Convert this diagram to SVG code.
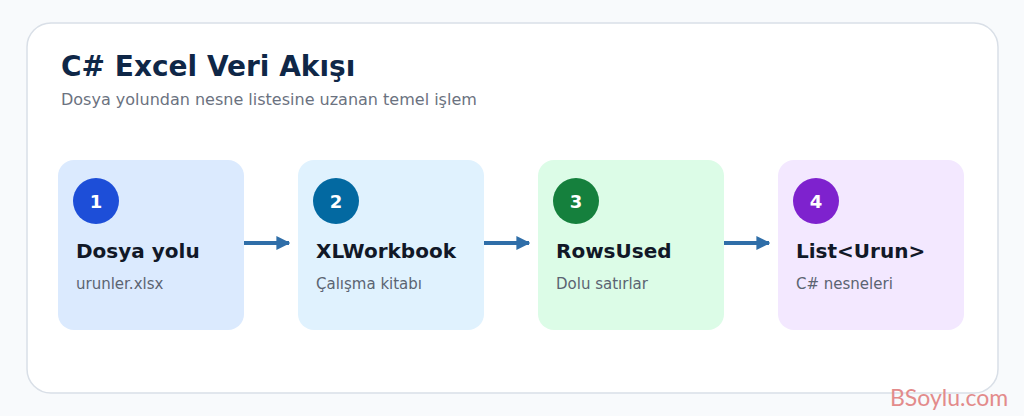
<svg xmlns="http://www.w3.org/2000/svg" width="1024" height="416" viewBox="0 0 1024 416">
<defs>
<style>
.t{font-family:"DejaVu Sans",sans-serif}
.title{font-size:28px;font-weight:bold;fill:#0f2747}
.sub{font-size:16px;fill:#6b7280}
.nt{font-size:20px;font-weight:bold;fill:#111827}
.ns{font-size:15px;fill:#5b6472}
.num{font-size:18px;font-weight:bold;fill:#ffffff;text-anchor:middle}
.conn{stroke:#2f6ea8;stroke-width:4;fill:none}
</style>
<marker id="ah" viewBox="0 0 10 10" refX="9" refY="5" markerWidth="3.5" markerHeight="4.5" orient="auto" markerUnits="strokeWidth">
<path d="M0,0 L10,5 L0,10 Z" fill="#2f6ea8"/>
</marker>
</defs>
<rect width="1024" height="416" fill="#f8fafc"/>
<rect x="27" y="23" width="971" height="370" rx="24" fill="#ffffff" stroke="#d9dfe7" stroke-width="1.5"/>
<text class="t title" x="61" y="76">C# Excel Veri Akışı</text>
<text class="t sub" x="61" y="105">Dosya yolundan nesne listesine uzanan temel işlem</text>
<g id="connectors">
<line class="conn" x1="244" y1="243" x2="289" y2="243" marker-end="url(#ah)"/>
<line class="conn" x1="484" y1="243" x2="529" y2="243" marker-end="url(#ah)"/>
<line class="conn" x1="724" y1="243" x2="769" y2="243" marker-end="url(#ah)"/>
</g>
<g id="node1">
<rect x="58" y="160" width="186" height="170" rx="16" fill="#dbeafe"/>
<circle cx="96" cy="201" r="23" fill="#1d4ed8"/>
<text class="t num" x="96" y="208">1</text>
<text class="t nt" x="76" y="258">Dosya yolu</text>
<text class="t ns" x="76" y="289">urunler.xlsx</text>
</g>
<g id="node2">
<rect x="298" y="160" width="186" height="170" rx="16" fill="#e0f2fe"/>
<circle cx="336" cy="201" r="23" fill="#0369a1"/>
<text class="t num" x="336" y="208">2</text>
<text class="t nt" x="316" y="258">XLWorkbook</text>
<text class="t ns" x="316" y="289">Çalışma kitabı</text>
</g>
<g id="node3">
<rect x="538" y="160" width="186" height="170" rx="16" fill="#dcfce7"/>
<circle cx="576" cy="201" r="23" fill="#15803d"/>
<text class="t num" x="576" y="208">3</text>
<text class="t nt" x="556" y="258">RowsUsed</text>
<text class="t ns" x="556" y="289">Dolu satırlar</text>
</g>
<g id="node4">
<rect x="778" y="160" width="186" height="170" rx="16" fill="#f3e8ff"/>
<circle cx="816" cy="201" r="23" fill="#7e22ce"/>
<text class="t num" x="816" y="208">4</text>
<text class="t nt" x="796" y="258">List&lt;Urun&gt;</text>
<text class="t ns" x="796" y="289">C# nesneleri</text>
</g>
<text x="890" y="406" font-family="Lato, sans-serif" font-size="23" fill="#e38b8b">BSoylu.com</text>
</svg>
